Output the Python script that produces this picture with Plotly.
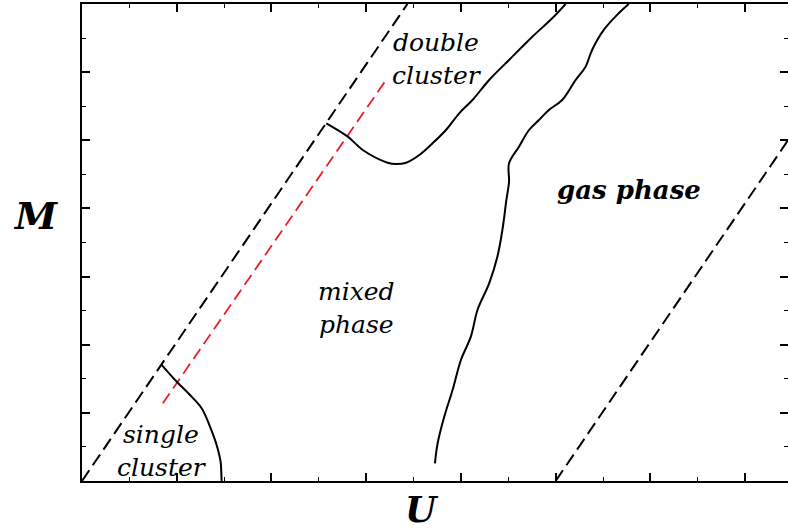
import plotly.graph_objects as go

# Boundary lines (U, M), axes in units of major ticks
left_dash_u = [0.0, 3.435]
left_dash_m = [0.0, 7.0]
right_dash_u = [5.0, 7.453]
right_dash_m = [0.0, 5.0]
red_dash_u = [0.853, 3.217]
red_dash_m = [1.140, 5.900]

single_u = [0.838, 1.000, 1.140, 1.263, 1.351, 1.421, 1.463, 1.474, 1.477]
single_m = [1.708, 1.457, 1.262, 1.067, 0.797, 0.528, 0.283, 0.015, 0.0]

double_u = [2.579, 2.806, 2.964, 3.227, 3.316, 3.421, 3.561, 3.701, 3.842,
            3.982, 4.122, 4.298, 4.508, 4.754, 4.964, 5.105]
double_m = [5.249, 5.053, 4.858, 4.671, 4.652, 4.671, 4.784, 4.956, 5.151,
            5.396, 5.591, 5.885, 6.178, 6.520, 6.790, 7.0]

gas_u = [5.772, 5.666, 5.508, 5.385, 5.316, 5.211, 5.069, 4.929, 4.824, 4.719,
         4.613, 4.508, 4.508, 4.480, 4.438, 4.385, 4.298, 4.175, 4.105, 4.000,
         3.912, 3.824, 3.754, 3.726]
gas_m = [7.0, 6.864, 6.619, 6.325, 6.080, 5.885, 5.591, 5.445, 5.298, 5.151,
         4.906, 4.662, 4.392, 4.124, 3.684, 3.292, 2.901, 2.510, 2.118, 1.776,
         1.335, 0.944, 0.553, 0.260]

labels = ["double<br>cluster", "mixed<br>phase", "gas phase", "single<br>cluster"]
label_u = [3.751, 2.898, 5.772, 0.845]
label_m = [6.193, 2.539, 4.271, 0.440]
label_bold = [False, False, True, False]

FONT = "DejaVu Serif"

fig = go.Figure()
fig.add_trace(go.Scatter(x=left_dash_u, y=left_dash_m, mode="lines",
                         line=dict(color="black", width=2, dash="13px,6px")))
fig.add_trace(go.Scatter(x=right_dash_u, y=right_dash_m, mode="lines",
                         line=dict(color="black", width=2, dash="13px,6px")))
fig.add_trace(go.Scatter(x=red_dash_u, y=red_dash_m, mode="lines",
                         line=dict(color="#e8202a", width=1.8, dash="12px,6px")))
for u, m in [(single_u, single_m), (double_u, double_m), (gas_u, gas_m)]:
    fig.add_trace(go.Scatter(x=u, y=m, mode="lines", line=dict(color="black", width=2),
                             line_shape="spline"))

for t, u, m, b in zip(labels, label_u, label_m, label_bold):
    txt = f"<b><i>{t}</i></b>" if b else f"<i>{t}</i>"
    fig.add_annotation(x=u, y=m, xref="x", yref="y", text=txt, showarrow=False,
                       font=dict(family=FONT, size=26 if b else 25, color="black"))

fig.add_annotation(x=-0.0654, y=0.5556, xref="paper", yref="paper",
                   xanchor="center", yanchor="middle",
                   text="<b><i>M</i></b>", showarrow=False,
                   font=dict(family=FONT, size=38, color="black"))
fig.add_annotation(x=0.482, y=-0.059, xref="paper", yref="paper",
                   xanchor="center", yanchor="middle",
                   text="<b><i>U</i></b>", showarrow=False,
                   font=dict(family=FONT, size=36, color="black"))

axis_common = dict(showgrid=False, zeroline=False, showline=True, linecolor="black",
                   linewidth=2, mirror="allticks", ticks="inside", ticklen=8,
                   tickwidth=1.5, tickcolor="black", showticklabels=False,
                   minor=dict(ticks="inside", ticklen=4, tickwidth=1.2,
                              tickcolor="black", dtick=0.5, showgrid=False))
fig.update_xaxes(range=[0, 7.453], dtick=1, tick0=0, **axis_common)
fig.update_yaxes(range=[0, 7], dtick=1, tick0=0, **axis_common)

fig.update_layout(width=790, height=532, showlegend=False,
                  margin=dict(l=82, r=0, t=4, b=51),
                  plot_bgcolor="white", paper_bgcolor="white")
fig.write_html("out.html", config={"displayModeBar": False},
               post_script="document.body.style.margin='0';document.body.style.overflow='hidden';")
